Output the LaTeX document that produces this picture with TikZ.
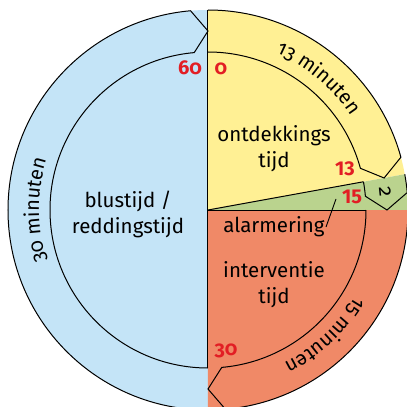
\documentclass[tikz,border=0pt]{standalone}
\usepackage{fontspec}
\setmainfont{Fira Sans}[Numbers=OldStyle]
\usetikzlibrary{decorations.text}
\definecolor{blauw}{RGB}{196,228,247}
\definecolor{geel}{RGB}{255,240,148}
\definecolor{groen}{RGB}{186,211,142}
\definecolor{rood}{RGB}{240,137,103}
\definecolor{nrrood}{RGB}{226,30,36}
\newcommand\ringfont{\fontsize{20}{20}\selectfont}
\begin{document}
\begin{tikzpicture}[x=1pt, y=1pt, line width=1pt,
  fase/.style={font=\fontsize{20.5}{26}\selectfont, align=center, inner sep=1pt},
  tijdnr/.style={font=\fontsize{20}{20}\selectfont\bfseries, text=nrrood, inner sep=0pt},
  tijdnrl/.style={tijdnr, font=\fontsize{20}{20}\selectfont\bfseries\addfontfeatures{Numbers=Lining}}]
\useasboundingbox (-208,-197) rectangle (199,210);
\clip (-208,-197) rectangle (199,210);
\foreach \a/\b/\c in {270/90/blauw, 90/10.3/geel, 10.3/0/groen, 0/-90/rood} {
  \fill[\c] (0,0) -- (\b:200) arc[start angle=\b, end angle=\a, radius=200] -- cycle;
}
\foreach \a/\b in {270/90, 90/10.3, 10.3/0, 0/-90} {
  \draw (\a:200) arc[start angle=\a, end angle=\b+5, radius=200] -- (\b:179)
    -- ({\b+5}:158) arc[start angle=\b+5, end angle=\a, radius=158];
}
\draw (0,200) -- (0,-158);
\draw (0,0) -- (10.3:158);
\draw (0,0) -- (158,0);
\path[decorate, decoration={text along path, text align=center, text={|\ringfont|13 minuten}}]
  (80:171) arc[start angle=80, end angle=20, radius=171];
\path[decorate, decoration={text along path, text align=center, text={|\ringfont|30 minuten}}]
  (210:169) arc[start angle=210, end angle=150, radius=169];
\path[decorate, decoration={text along path, text align=center, text={|\ringfont|15 minuten}}]
  (-17:171) arc[start angle=-17, end angle=-77, radius=171];
\node[fase] (blus) at (-80,-4) {blustijd /\\reddingstijd};
\node[fase] (ontd) at (66,61) {ontdekkings\\tijd};
\node[fase] (alarm) at (66,-17) {alarmering};
\node[fase] (interv) at (66,-75) {interventie\\tijd};
\node[font=\ringfont, rotate=-84.2] (twee) at (5.8:178) {2};
\node[tijdnr] (n60) at (-18,142) {60};
\node[tijdnr] (n0) at (13,141) {0};
\node[tijdnrl] (n13) at (137,41) {13};
\node[tijdnrl] (n15) at (144,13) {15};
\node[tijdnr] (n30) at (18,-141) {30};
\coordinate (wijs) at (128,11);
\draw[line width=0.9pt] (alarm.east) -- (wijs);
\end{tikzpicture}
\end{document}
